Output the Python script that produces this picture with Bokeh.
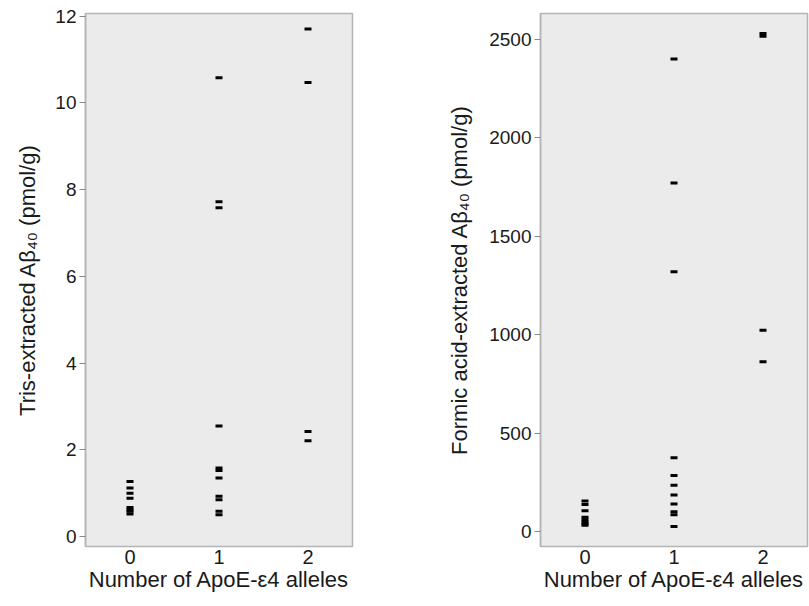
from bokeh.plotting import figure
from bokeh.layouts import row
from bokeh.models import FixedTicker, ColumnDataSource, Range1d
from bokeh.embed import file_html
from bokeh.resources import INLINE

# ---- data ----
alleles = [0, 1, 2]
x_tick_labels = ["0", "1", "2"]

tris_e0 = [1.27, 1.12, 1.00, 0.88, 0.67, 0.62, 0.58, 0.52]
tris_e1 = [10.58, 7.72, 7.58, 2.55, 1.58, 1.52, 1.35, 0.93, 0.85, 0.58, 0.50]
tris_e2 = [11.70, 10.47, 2.42, 2.21]

fa_e0 = [155, 137, 106, 72, 60, 48, 40, 32]
fa_e1 = [2400, 1770, 1320, 375, 285, 235, 185, 140, 100, 85, 25]
fa_e2 = [2530, 2515, 1022, 862]

tris_ticks = [0, 2, 4, 6, 8, 10, 12]
fa_ticks = [0, 500, 1000, 1500, 2000, 2500]

FONT = "Liberation Sans"
BG = "#ebebeb"
FRAME = "#b4b4b4"
TEXT = "#1a1a1a"


def make_panel(groups, ylabel, yticks, yrange, width, left, right, title_standoff):
    xs, ys = [], []
    for a, vals in zip(alleles, groups):
        xs += [a] * len(vals)
        ys += vals
    src = ColumnDataSource(dict(x=xs, y=ys))
    p = figure(width=width, height=606, output_backend="svg", toolbar_location=None,
               x_range=Range1d(-0.5, 2.5), y_range=Range1d(*yrange),
               min_border_left=left, min_border_right=right,
               min_border_top=13, min_border_bottom=60)
    p.background_fill_color = BG
    p.border_fill_color = "white"
    p.outline_line_color = FRAME
    p.outline_line_width = 1.5
    p.grid.visible = False

    p.rect("x", "y", width=7, height=3, width_units="screen", height_units="screen",
           source=src, fill_color="black", line_color=None)

    xa = p.xaxis[0]
    xa.ticker = FixedTicker(ticks=alleles)
    xa.major_label_overrides = {a: l for a, l in zip(alleles, x_tick_labels)}
    xa.axis_line_color = None
    xa.major_tick_line_color = None
    xa.minor_tick_line_color = None
    xa.major_tick_out = 0
    xa.major_label_text_font = FONT
    xa.major_label_text_font_size = "20px"
    xa.major_label_text_color = TEXT
    xa.major_label_standoff = 3
    xa.axis_label = "Number of ApoE-\u03b54 alleles"
    xa.axis_label_text_font = FONT
    xa.axis_label_text_font_size = "22px"
    xa.axis_label_text_font_style = "normal"
    xa.axis_label_text_color = TEXT
    xa.axis_label_standoff = 0

    ya = p.yaxis[0]
    ya.ticker = FixedTicker(ticks=yticks)
    ya.axis_line_color = FRAME
    ya.axis_line_width = 1.5
    ya.major_tick_line_color = "#888888"
    ya.major_tick_out = 6
    ya.major_tick_in = 0
    ya.minor_tick_line_color = None
    ya.major_label_text_font = FONT
    ya.major_label_text_font_size = "19px"
    ya.major_label_text_color = TEXT
    ya.major_label_standoff = 3
    ya.axis_label = ylabel
    ya.axis_label_text_font = FONT
    ya.axis_label_text_font_size = "22px"
    ya.axis_label_text_font_style = "normal"
    ya.axis_label_text_color = TEXT
    ya.axis_label_standoff = title_standoff
    return p


p1 = make_panel([tris_e0, tris_e1, tris_e2], "Tris-extracted A\u03b2\u2084\u2080 (pmol/g)",
                tris_ticks, (-0.23, 12.06), 404, 85, 52, 12)
p2 = make_panel([fa_e0, fa_e1, fa_e2], "Formic acid-extracted A\u03b2\u2084\u2080 (pmol/g)",
                fa_ticks, (-76, 2631), 405, 136, 2, 14)

layout = row(p1, p2)
open("out.html", "w").write(file_html(layout, INLINE))
